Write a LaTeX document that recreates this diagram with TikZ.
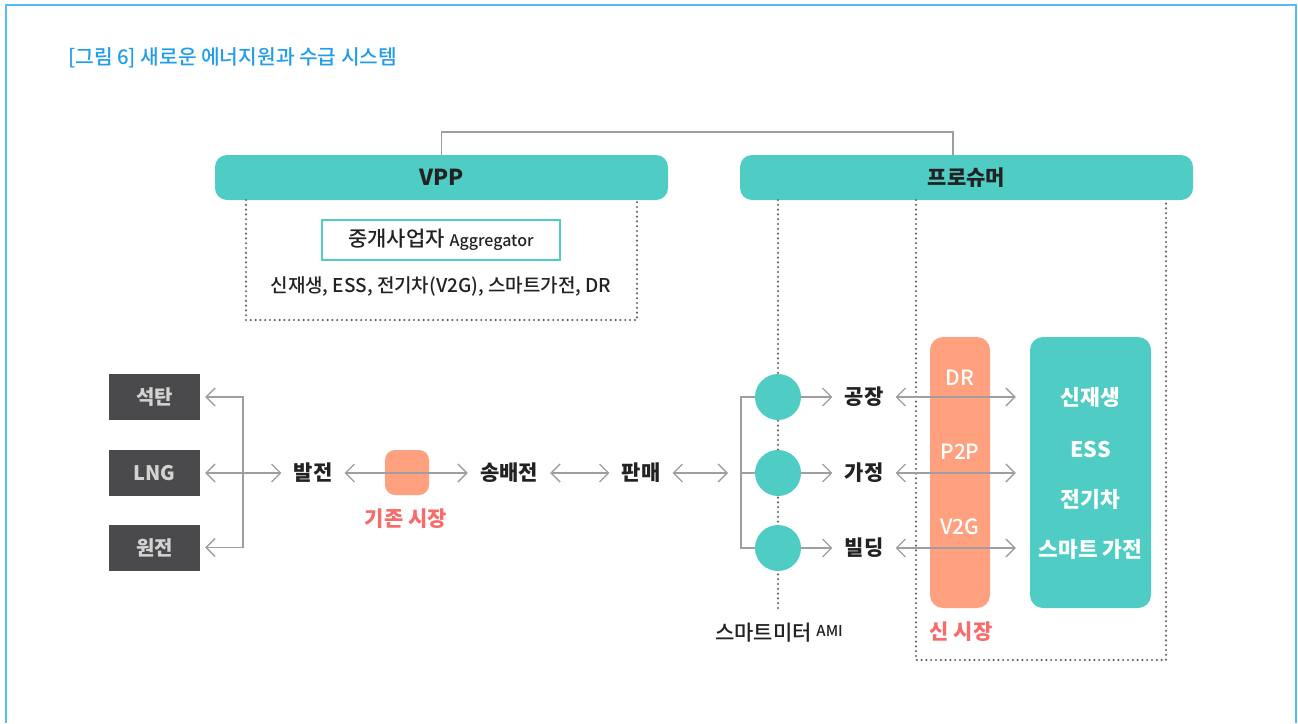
\documentclass[tikz,border=0pt]{standalone}
\usepackage{fontspec}
\setmainfont{Noto Sans CJK KR}
\newfontfamily\medfont{Noto Sans CJK KR Medium}
\usetikzlibrary{arrows.meta}
\definecolor{teal1}{HTML}{4FCDC4}
\definecolor{salmon}{HTML}{FFA07F}
\definecolor{redtxt}{HTML}{F76B6B}
\definecolor{darkbox}{HTML}{4A4A4C}
\definecolor{srctxt}{HTML}{D2D2D2}
\definecolor{cgray}{HTML}{9E9E9E}
\definecolor{dotgray}{HTML}{666666}
\definecolor{titleblue}{HTML}{229DEA}
\definecolor{frameblue}{HTML}{55BBF5}
\definecolor{txt}{HTML}{222222}
\begin{document}
\begin{tikzpicture}[x=1pt,y=-1pt,
  >={Straight Barb[length=9pt,width=18pt]},
  conn/.style={draw=cgray, line width=1.3pt},
  dots/.style={draw=dotgray, line width=2.4pt, dash pattern=on 0pt off 4.8pt, line cap=round},
  headbox/.style={fill=teal1, rounded corners=12pt, minimum width=453pt, minimum height=45pt, inner sep=0pt, text=txt},
  srcbox/.style={fill=darkbox, minimum width=91pt, minimum height=46pt, inner sep=0pt, text=srctxt, font=\fontsize{20}{20}\selectfont\bfseries},
  lbl/.style={inner xsep=12pt, inner ysep=2pt, text=txt, font=\fontsize{21}{21}\selectfont\bfseries},
  redlbl/.style={inner sep=0pt, text=redtxt, font=\fontsize{21}{21}\selectfont\bfseries},
  wlbl/.style={inner sep=0pt, text=white, font=\fontsize{21}{21}\selectfont\medfont},
  wblbl/.style={inner sep=0pt, text=white, font=\fontsize{21.5}{21.5}\selectfont\bfseries},
  meter/.style={circle, fill=teal1, minimum size=46pt, inner sep=0pt}
]
\useasboundingbox (0,0) rectangle (1298,723);
% frame
\draw[frameblue, line width=2pt] (6,723) -- (6,5) -- (1296,5) -- (1296,723);
% title
\node[anchor=west, inner sep=0pt, text=titleblue, font=\fontsize{20.3}{20.3}\selectfont\medfont] (title) at (68,58) {[그림 6] 새로운 에너지원과 수급 시스템};

% headers
\node[headbox, font=\fontsize{22}{22}\selectfont\bfseries] (vpp) at (441.5,177.5) {VPP};
\node[headbox, font=\fontsize{21}{21}\selectfont\bfseries] (pro) at (966.5,177.5) {프로슈머};
\coordinate (tp) at (953,155);
\draw[cgray, line width=1.3pt] (vpp.north) -- (vpp.north |- 0,132) -| (tp);

% VPP detail
\draw[dots] (246,200) -- (246,320) -- (637,320) -- (637,200);
\node[draw=teal1, line width=2pt, minimum width=238pt, minimum height=40pt, inner sep=0pt, text=txt] (agg) at (441,240)
  {\medfont\fontsize{21}{21}\selectfont 중개사업자 {\fontsize{16}{16}\selectfont Aggregator}};
\node[inner sep=0pt, text=txt, font=\fontsize{19}{19}\selectfont\medfont] (list) at (441,286) {신재생, ESS, 전기차(V2G), 스마트가전, DR};

% sources
\node[srcbox] (coal) at (154.5,397) {석탄};
\node[srcbox] (lng) at (154.5,473) {LNG};
\node[srcbox] (nuke) at (154.5,547.5) {원전};
\coordinate (bx) at (243,0);
\draw[conn,<->,shorten <=5pt,shorten >=5pt] (coal.east) -- (coal.east -| bx) -- (nuke.east -| bx) -- (nuke.east);

% chain
\node[lbl] (gen) at (313,473) {발전};
\node[fill=salmon, rounded corners=10pt, minimum width=44pt, minimum height=45pt, inner sep=0pt] (old) at (407,472.5) {};
\node[lbl] (trans) at (509,473) {송배전};
\node[lbl] (sale) at (641,473) {판매};
\node[redlbl] (oldlbl) at (406,519) {기존 시장};
\draw[conn,<->,shorten <=5pt] (lng.east) -- (gen.west);
\draw[conn,<->] (gen.east) -- (trans.west);
\draw[conn,<->] (trans.east) -- (sale.west);

% smart meters
\draw[dots] (778,200) -- (778,608);
\node[meter] (m1) at (778,397) {};
\node[meter] (m2) at (778,473) {};
\node[meter] (m3) at (778,548) {};
\coordinate (bx2) at (741,0);
\draw[conn] (m1.west) -- (m1.west -| bx2) -- (m3.west -| bx2) -- (m3.west);
\draw[conn] (m2.west) -- (m2.west -| bx2);
\draw[conn,<->,shorten >=13pt] (sale.east) -- (m2.west -| bx2);
\node[inner sep=0pt, text=txt, anchor=base] (ami) at (779,640)
  {\medfont\fontsize{21}{21}\selectfont 스마트미터 \raisebox{4pt}{\fontsize{15}{15}\selectfont AMI}};

% consumers
\node[lbl] (fac) at (864,397) {공장};
\node[lbl] (home) at (864,473) {가정};
\node[lbl] (bld) at (864,548) {빌딩};
\draw[conn,->] (m1.east) -- (fac.west);
\draw[conn,->] (m2.east) -- (home.west);
\draw[conn,->] (m3.east) -- (bld.west);

% prosumer detail
\draw[dots] (916,200) -- (916,660) -- (1166,660) -- (1166,200);
\node[fill=salmon, rounded corners=13pt, minimum width=60pt, minimum height=271pt, inner sep=0pt] (bar) at (960,472.5) {};
\node[wlbl] (dr) at (960,378) {DR};
\node[wlbl] (p2p) at (960,452) {P2P};
\node[wlbl] (v2g) at (960,527) {V2G};
\node[redlbl] (newlbl) at (961,632) {신 시장};
\node[fill=teal1, rounded corners=13pt, minimum width=121pt, minimum height=271pt, inner sep=0pt] (res) at (1090.5,472.5) {};
\node[wblbl] (r1) at (1090.5,397) {신재생};
\node[wblbl] (r2) at (1090.5,449) {ESS};
\node[wblbl] (r3) at (1090.5,499) {전기차};
\node[wblbl] (r4) at (1090.5,549) {스마트 가전};
\draw[conn,<->,shorten >=14pt] (fac.east) -- (fac.east -| res.west);
\draw[conn,<->,shorten >=14pt] (home.east) -- (home.east -| res.west);
\draw[conn,<->,shorten >=14pt] (bld.east) -- (bld.east -| res.west);
\end{tikzpicture}
\end{document}
